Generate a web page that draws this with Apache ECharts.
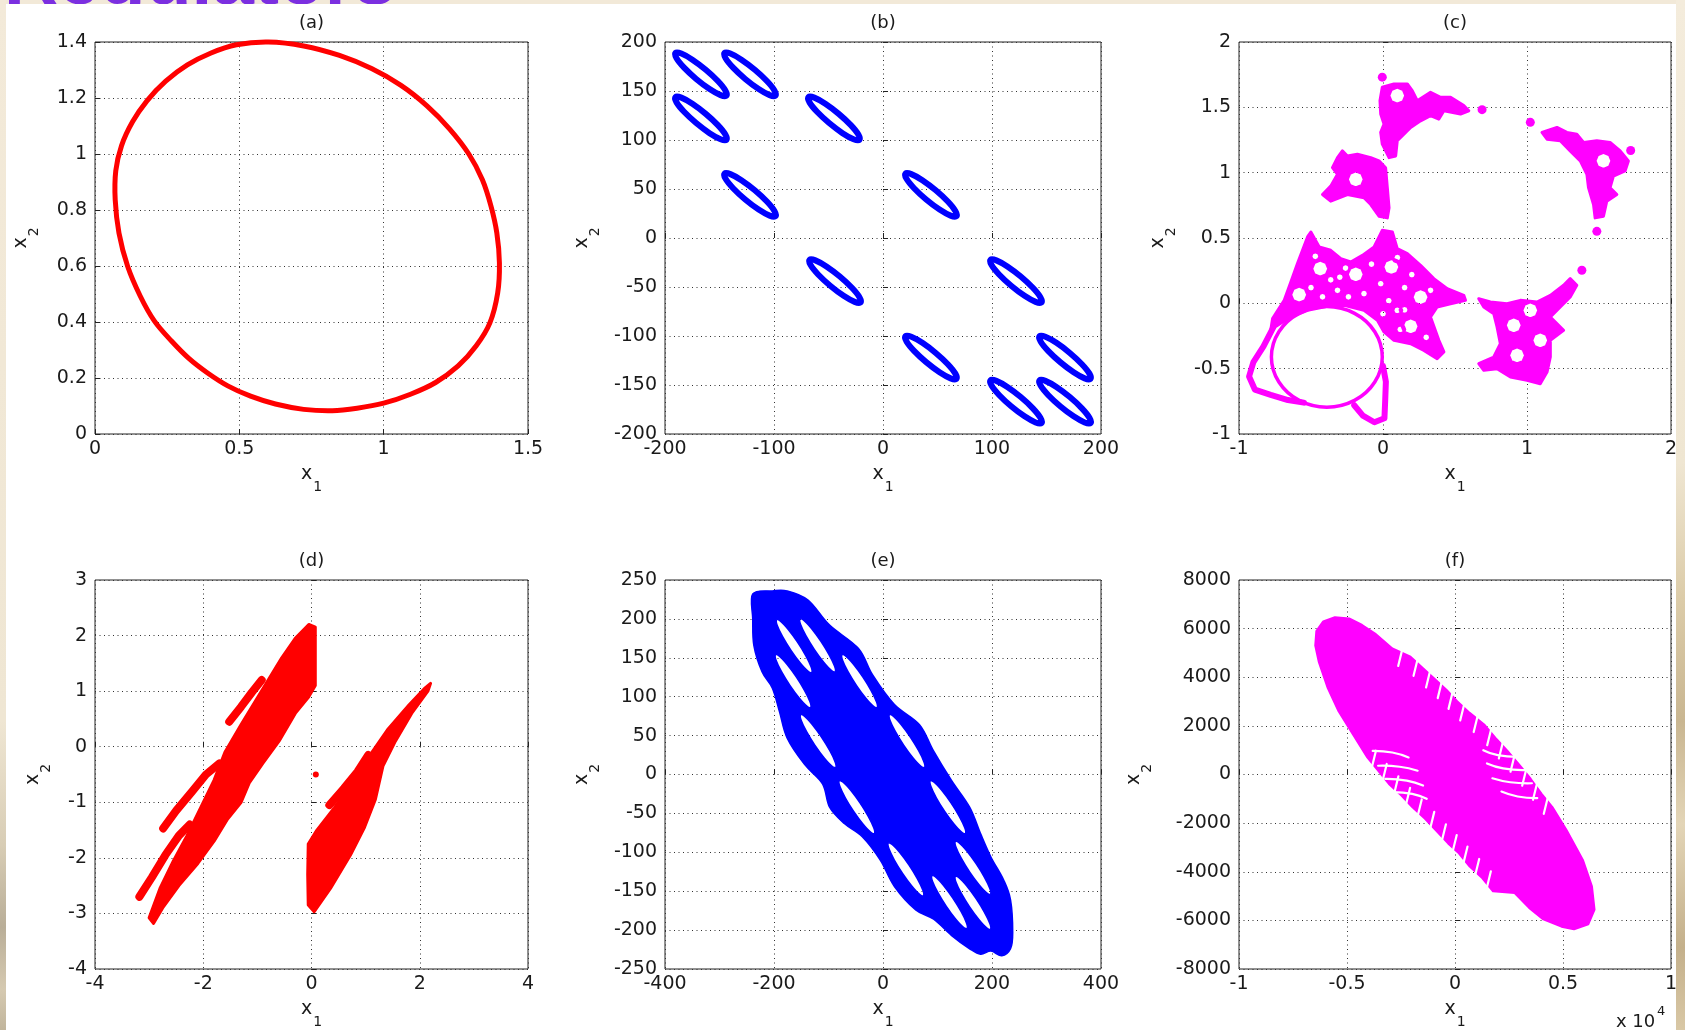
<!DOCTYPE html>
<html>
<head>
<meta charset="utf-8">
<title>Phase portraits (a)-(f)</title>
<script src="https://cdn.jsdelivr.net/npm/echarts@6.0.0/dist/echarts.min.js"></script>
<style>
  html, body { margin:0; padding:0; width:1685px; height:1030px; overflow:hidden; }
  body { background:#f2e9d8; position:relative; }
  #stripL { position:absolute; left:0; top:0; width:6px; height:1030px;
    background:linear-gradient(180deg,#f3ead9 0%,#efe6d3 70%,#d8cdb5 82%,#b9ae98 90%,#d5c9b0 96%,#c1b59c 100%); }
  #stripR { position:absolute; left:1676px; top:0; width:9px; height:1030px;
    background:linear-gradient(180deg,#f4ecdc 0%,#efe6d2 45%,#dccca9 58%,#c9b691 70%,#e3d5b7 80%,#c4b08b 92%,#d9c8a6 100%); }
  #deck { position:absolute; left:4px; top:-58px; font:bold 75px 'Liberation Sans', Arial, sans-serif;
    color:#7b2fe0; line-height:72px; white-space:nowrap; }
  #panel { position:absolute; left:6px; top:4px; width:1670px; height:1026px; background:#fff; }
  #chart { position:absolute; left:0; top:0; width:1685px; height:1030px; }
</style>
</head>
<body>
<div id="stripL"></div>
<div id="stripR"></div>
<div id="deck">Regulators</div>
<div id="panel"></div>
<div id="chart"></div>
<script>
// ---------- axis ticks and panel titles ----------
const panelTitles = ['(a)', '(b)', '(c)', '(d)', '(e)', '(f)'];
const xTicks = [
  [0, 0.5, 1, 1.5],
  [-200, -100, 0, 100, 200],
  [-1, 0, 1, 2],
  [-4, -2, 0, 2, 4],
  [-400, -200, 0, 200, 400],
  [-10000, -5000, 0, 5000, 10000]
];
const yTicks = [
  [0, 0.2, 0.4, 0.6, 0.8, 1, 1.2, 1.4],
  [-200, -150, -100, -50, 0, 50, 100, 150, 200],
  [-1, -0.5, 0, 0.5, 1, 1.5, 2],
  [-4, -3, -2, -1, 0, 1, 2, 3],
  [-250, -200, -150, -100, -50, 0, 50, 100, 150, 200, 250],
  [-8000, -6000, -4000, -2000, 0, 2000, 4000, 6000, 8000]
];

// ---------- (a) limit cycle, points along the closed orbit ----------
const cycleA = [[0.6,1.4],[0.723,1.386],[0.847,1.352],[0.958,1.305],[1.06,1.245],[1.15,1.172],[1.228,1.09],
  [1.295,1.0],[1.342,0.908],[1.372,0.813],[1.392,0.718],[1.401,0.611],[1.395,0.504],[1.368,0.397],[1.32,0.314],
  [1.258,0.243],[1.18,0.184],[1.093,0.142],[1.0,0.11],[0.908,0.092],[0.822,0.083],[0.723,0.088],[0.625,0.107],
  [0.539,0.135],[0.46,0.172],[0.39,0.218],[0.325,0.27],[0.265,0.332],[0.206,0.403],[0.157,0.492],[0.113,0.599],
  [0.083,0.718],[0.07,0.836],[0.072,0.94],[0.092,1.03],[0.13,1.115],[0.18,1.19],[0.245,1.26],[0.32,1.318],
  [0.4,1.36],[0.49,1.39]];

// ---------- (b) twelve small orbits: orbit outline (relative) and orbit centres ----------
const orbitLoopB = [[23.4,-21.8],[22.4,-16.4],[15.5,-6.8],[4.4,4.7],[-7.9,15.0],[-18.0,21.2],
  [-23.4,21.8],[-22.4,16.4],[-15.5,6.8],[-4.4,-4.7],[7.9,-15.0],[18.0,-21.2]];
const orbitCentersB = [[-167,167],[-122,167],[-167,122],[-45,122],[-122,44],[44,44],
  [-44,-44],[122,-44],[44,-122],[167,-122],[122,-167],[167,-167]];

// ---------- (c) lace-like attractor: filled patches, their gaps, the ring and loose strands ----------
const latticeC = [[-0.501,0.546],[-0.443,0.431],[-0.363,0.406],[-0.293,0.342],[-0.224,0.316],[-0.143,0.367],
  [-0.062,0.431],[-0.005,0.559],[0.065,0.546],[0.099,0.418],[0.169,0.38],[0.261,0.291],[0.353,0.189],
  [0.446,0.112],[0.561,0.061],[0.573,0.023],[0.469,-0.003],[0.376,-0.028],[0.33,-0.105],[0.388,-0.283],
  [0.423,-0.372],[0.376,-0.423],[0.284,-0.36],[0.192,-0.309],[0.076,-0.283],[0.007,-0.219],[-0.039,-0.13],
  [-0.132,-0.054],[-0.27,-0.015],[-0.386,-0.023],[-0.524,-0.054],[-0.64,-0.105],[-0.732,-0.168],
  [-0.778,-0.194],[-0.767,-0.117],[-0.686,0.023],[-0.64,0.163],[-0.594,0.304],[-0.559,0.406],[-0.524,0.508]];
const latticeGapsC = [[-0.436,0.265],[-0.189,0.222],[0.058,0.278],[-0.582,0.066],[0.261,0.048],[0.192,-0.176]];
const latticeSlitsC = [[-0.316,0.1],[-0.132,0.074],[-0.363,0.18],[-0.016,0.15],[0.099,-0.054],[-0.24,0.05],
  [0.04,0.02],[0.15,0.12],[-0.5,0.12],[0.3,-0.26],[-0.26,0.27],[0.2,0.22],[0.33,0.1],[0.0,-0.08],
  [0.12,-0.2],[-0.42,0.05],[-0.47,0.36],[0.1,0.35],[-0.08,0.3],[-0.3,0.2],[0.15,-0.05]];
const patchLeftC = [[-0.282,1.167],[-0.247,1.128],[-0.178,1.141],[-0.085,1.115],[-0.028,1.09],[0.018,1.038],
  [0.03,0.885],[0.042,0.731],[0.03,0.654],[-0.028,0.667],[-0.085,0.756],[-0.132,0.808],[-0.247,0.833],
  [-0.363,0.782],[-0.42,0.833],[-0.363,0.897],[-0.316,0.987],[-0.351,1.038],[-0.316,1.115]];
const patchLeftGapsC = [[-0.189,0.949]];
const patchTopC = [[-0.005,1.654],[0.076,1.679],[0.169,1.679],[0.203,1.628],[0.238,1.551],[0.33,1.615],
  [0.4,1.577],[0.469,1.577],[0.561,1.513],[0.596,1.474],[0.538,1.449],[0.423,1.474],[0.388,1.41],[0.33,1.436],
  [0.261,1.397],[0.192,1.346],[0.145,1.295],[0.099,1.244],[0.088,1.128],[0.042,1.115],[-0.005,1.218],
  [-0.016,1.308],[0.007,1.372],[-0.016,1.449],[-0.021,1.551]];
const patchTopGapsC = [[0.099,1.59]];
const patchRightC = [[1.104,1.308],[1.208,1.346],[1.277,1.308],[1.346,1.295],[1.393,1.231],[1.485,1.244],
  [1.577,1.231],[1.647,1.167],[1.704,1.09],[1.681,1.013],[1.6,0.974],[1.577,0.885],[1.624,0.833],[1.554,0.782],
  [1.531,0.667],[1.473,0.654],[1.462,0.756],[1.427,0.885],[1.416,0.987],[1.37,1.09],[1.3,1.167],[1.231,1.244],[1.139,1.256]];
const patchRightGapsC = [[1.531,1.09]];
const patchLowC = [[0.665,0.036],[0.746,0.01],[0.861,-0.003],[0.954,0.023],[1.069,0.01],[1.162,0.061],
  [1.254,0.138],[1.3,0.189],[1.346,0.138],[1.3,0.048],[1.231,-0.028],[1.162,-0.105],[1.254,-0.207],
  [1.162,-0.283],[1.162,-0.411],[1.139,-0.526],[1.092,-0.615],[1.0,-0.589],[0.885,-0.564],[0.792,-0.5],
  [0.7,-0.513],[0.665,-0.462],[0.769,-0.411],[0.815,-0.309],[0.792,-0.181],[0.769,-0.079],[0.7,-0.028]];
const patchLowGapsC = [[0.908,-0.168],[0.931,-0.398],[1.092,-0.283],[1.023,-0.054]];
const ringC = [[-0.005,-0.41],[-0.057,-0.2175],[-0.1975,-0.077],[-0.39,-0.025],[-0.5825,-0.077],
  [-0.723,-0.2175],[-0.775,-0.41],[-0.723,-0.6025],[-0.5825,-0.743],[-0.39,-0.795],[-0.1975,-0.743],[-0.057,-0.6025]];
const strandsC = [
  [[-0.76,-0.18],[-0.83,-0.33],[-0.9,-0.45],[-0.93,-0.56],[-0.89,-0.66],[-0.78,-0.7],[-0.66,-0.74],[-0.55,-0.76]],
  [[-0.2,-0.78],[-0.14,-0.86],[-0.06,-0.91],[0.01,-0.88],[0.015,-0.75],[0.02,-0.6],[0.0,-0.48]]
];
const dotsC = [[-0.005,1.731],[0.688,1.482],[1.023,1.385],[1.72,1.17],[1.485,0.551],[1.381,0.253]];

// ---------- (d) two-band attractor ----------
const bandLeftD = [[-0.05,2.2],[0.07,2.15],[0.07,1.6],[0.07,1.1],[-0.05,0.9],[-0.3,0.6],[-0.6,0.1],
  [-0.9,-0.3],[-1.15,-0.65],[-1.3,-1.0],[-1.55,-1.3],[-1.8,-1.7],[-2.1,-2.1],[-2.45,-2.5],[-2.75,-2.9],
  [-2.92,-3.18],[-3.0,-3.08],[-2.8,-2.55],[-2.55,-2.05],[-2.3,-1.6],[-2.05,-1.1],[-1.8,-0.6],[-1.6,-0.1],
  [-1.3,0.4],[-1.05,0.8],[-0.8,1.2],[-0.55,1.6],[-0.3,1.95]];
const bandRightD = [[2.2,1.14],[2.15,1.0],[1.85,0.6],[1.55,0.1],[1.32,-0.35],[1.18,-0.95],[0.98,-1.45],
  [0.72,-1.95],[0.35,-2.55],[0.05,-2.97],[-0.06,-2.85],[-0.07,-2.3],[-0.06,-1.75],[0.1,-1.5],[0.42,-1.1],
  [0.75,-0.65],[1.08,-0.15],[1.4,0.3],[1.8,0.75],[2.1,1.06]];
const streaksD = [
  [[-3.18,-2.7],[-2.95,-2.35],[-2.7,-1.95],[-2.45,-1.6],[-2.25,-1.4]],
  [[-2.74,-1.47],[-2.5,-1.15],[-2.2,-0.8],[-1.95,-0.5],[-1.7,-0.3]],
  [[-1.52,0.45],[-1.3,0.72],[-1.1,0.98],[-0.92,1.2]],
  [[0.33,-1.05],[0.6,-0.75],[0.85,-0.45],[1.05,-0.15]]
];
const isolatedD = [[0.08,-0.5]];

// ---------- (e) filled attractor with twelve holes ----------
const outerE = [[-239,232],[-203,236],[-176,236],[-137,224],[-98,192],[-45,162],[-19,128],[21,90],[67,64],
  [93,30],[126,-8],[159,-42],[179,-76],[198,-106],[221,-135],[234,-161],[238,-203],[234,-224],[218,-233],
  [198,-227],[179,-231],[159,-224],[126,-207],[93,-186],[60,-174],[21,-144],[-5,-110],[-38,-80],[-71,-63],
  [-98,-42],[-111,-12],[-144,13],[-176,47],[-190,81],[-203,111],[-222,132],[-237,166],[-239,200]];
const holeLoopE = [[32.4,-33.8],[31.0,-26.5],[21.2,-12.1],[5.8,5.5],[-11.2,21.7],[-25.2,32.1],
  [-32.4,33.8],[-31.0,26.5],[-21.2,12.1],[-5.8,-5.5],[11.2,-21.7],[25.2,-32.1]];
const holeCentersE = [[-163,165],[-120,166],[-165,120],[-43,120],[-119,43],[44,43],
  [-48,-42],[119,-42],[42,-122],[165,-120],[122,-164],[165,-165]];

// ---------- (f) fan-shaped attractor (x1 in raw units, axis shows x 10^4) ----------
const fanF = [[-6470,5300],[-6420,5900],[-6100,6300],[-5560,6470],[-4900,6420],[-4300,6150],[-3700,5800],
  [-2900,5186],[-2060,4846],[-1480,4370],[-900,3895],[-400,3487],[100,3011],[680,2535],[1350,2059],
  [1930,1448],[2430,972],[3010,360],[3510,-184],[4010,-795],[4510,-1339],
  [5170,-2291],[5920,-3514],[6340,-4601],[6460,-5553],[6170,-6165],[5510,-6369],[4930,-6260],
  [4090,-5961],[3430,-5485],[2760,-4873],
  [1760,-4806],[1260,-4262],[680,-3786],[180,-3242],[-320,-2835],[-820,-2359],[-1400,-1815],
  [-1980,-1339],[-2480,-863],[-3060,-388],[-3560,156],[-4060,700],
  [-4730,1652],[-5390,2603],[-5890,3555],[-6310,4642]];
// narrow gaps between the teeth on both flanks, and the curved gaps inside
const fanGapsF = [
  [[-2450,5116],[-2630,4466]], [[-1740,4708],[-1920,4058]], [[-1160,4233],[-1340,3583]],
  [[-620,3791],[-800,3141]], [[-120,3349],[-300,2699]], [[420,2873],[240,2223]],
  [[1045,2397],[865,1747]], [[1670,1854],[1490,1204]], [[2210,1310],[2030,660]],
  [[2750,766],[2570,116]], [[3290,188],[3110,-462]], [[3790,-390],[3610,-1040]], [[4290,-967],[4110,-1617]],
  [[1480,-4634],[1660,-3984]], [[940,-4124],[1120,-3474]], [[400,-3614],[580,-2964]],
  [[-100,-3139],[80,-2489]], [[-600,-2697],[-420,-2047]], [[-1140,-2187],[-960,-1537]],
  [[-1720,-1677],[-1540,-1027]], [[-2260,-1201],[-2080,-551]], [[-2800,-726],[-2620,-76]],
  [[-3340,-216],[-3160,434]], [[-3840,328],[-3660,978]],
  [[-3810,972],[-2900,904],[-2150,700]], [[-3560,360],[-2560,319],[-1730,156]],
  [[-3230,-184],[-2230,-252],[-1480,-456]], [[-2980,-727],[-1980,-795],[-1310,-999]],
  [[3810,-972],[2900,-904],[2150,-700]], [[3560,-360],[2560,-319],[1730,-156]],
  [[3230,184],[2230,252],[1480,456]], [[2980,727],[1980,795],[1310,999]]
];

// ---------- layout and styling ----------
const FONT = 'DejaVu Sans';
const INK = '#1a1a1a';
const RED = '#ff0000', BLUE = '#0000ff', MAGENTA = '#ff00ff';

const frames = [
  { left: 95,   top: 42,  width: 433, height: 392, yGap: 63 },
  { left: 665,  top: 42,  width: 436, height: 392, yGap: 72 },
  { left: 1239, top: 42,  width: 432, height: 392, yGap: 70 },
  { left: 95,   top: 580, width: 433, height: 392, yGap: 51 },
  { left: 665,  top: 580, width: 436, height: 392, yGap: 72 },
  { left: 1239, top: 580, width: 432, height: 392, yGap: 94 }
];

const nameRich = {
  v: { fontFamily: FONT, fontSize: 19, color: INK, lineHeight: 20, verticalAlign: 'top' },
  s: { fontFamily: FONT, fontSize: 14, color: INK, lineHeight: 14, verticalAlign: 'top', padding: [15, 0, 0, 1] }
};
const plainNumber = v => String(+(+v).toFixed(6));

function valueAxis(ticks, i, extra) {
  return Object.assign({
    gridIndex: i,
    type: 'value',
    min: ticks[0],
    max: ticks[ticks.length - 1],
    interval: +(ticks[1] - ticks[0]).toFixed(6),
    axisLine: { show: false },
    axisTick: { show: true, inside: true, length: 5, lineStyle: { color: '#222' } },
    splitLine: { show: true, lineStyle: { color: '#333', width: 1, type: [1, 3.5] } },
    nameLocation: 'middle',
    nameTextStyle: { rich: nameRich }
  }, extra);
}

const xAxes = frames.map((f, i) => valueAxis(xTicks[i], i, {
  name: '{v|x}{s|1}',
  nameGap: 31,
  axisLabel: {
    fontFamily: FONT, fontSize: 19, color: INK, margin: 6,
    formatter: i === 5 ? (v => plainNumber(v / 10000)) : plainNumber
  }
}));
const yAxes = frames.map((f, i) => valueAxis(yTicks[i], i, {
  name: '{v|x}{s|2}',
  nameGap: f.yGap,
  nameRotate: 90,
  axisLabel: { fontFamily: FONT, fontSize: 19, color: INK, margin: 8, formatter: plainNumber }
}));

// ---------- drawing helpers: every vertex goes through the axis scales ----------
const toPx = (api, list, dx, dy) => list.map(p => api.coord([p[0] + (dx || 0), p[1] + (dy || 0)]));
const head = s => [s[0][0], s[0][1]];
const fmt = p => p[0].toFixed(2) + ' ' + p[1].toFixed(2);

function signedArea(points) {
  let area = 0;
  for (let k = 0; k < points.length; k++) {
    const a = points[k], b = points[(k + 1) % points.length];
    area += a[0] * b[1] - b[0] * a[1];
  }
  return area;
}
function orient(points, positive) {
  return ((signedArea(points) > 0) === positive) ? points : points.slice().reverse();
}
// closed Catmull-Rom curve through screen points
function curvePath(points) {
  const n = points.length;
  let d = 'M' + fmt(points[0]);
  for (let k = 0; k < n; k++) {
    const p0 = points[(k - 1 + n) % n], p1 = points[k], p2 = points[(k + 1) % n], p3 = points[(k + 2) % n];
    const c1 = [p1[0] + (p2[0] - p0[0]) / 6, p1[1] + (p2[1] - p0[1]) / 6];
    const c2 = [p2[0] - (p3[0] - p1[0]) / 6, p2[1] - (p3[1] - p1[1]) / 6];
    d += 'C' + fmt(c1) + ' ' + fmt(c2) + ' ' + fmt(p2);
  }
  return d + 'Z';
}
function straightPath(points) {
  return 'M' + points.map(fmt).join('L') + 'Z';
}
// small round gap around a screen point
function gapRing(c, r) {
  const dirs = [[1,0],[0.707,0.707],[0,1],[-0.707,0.707],[-1,0],[-0.707,-0.707],[0,-1],[0.707,-0.707]];
  return dirs.map(q => [c[0] + q[0] * r, c[1] + q[1] * r]);
}

function strokeCurveSeries(i, data, pointsOf, color, width) {
  return {
    type: 'custom', xAxisIndex: i, yAxisIndex: i, clip: false, silent: true,
    data: data,
    renderItem: (p, api) => ({
      type: 'path',
      shape: { pathData: curvePath(pointsOf(api)) },
      style: { fill: 'none', stroke: color, lineWidth: width }
    })
  };
}
function polylineSeries(i, lines, color, width, smooth) {
  return {
    type: 'custom', xAxisIndex: i, yAxisIndex: i, clip: false, silent: true,
    data: lines.map((s, k) => [s[0][0], s[0][1], k]),
    renderItem: (p, api) => ({
      type: 'polyline',
      shape: { points: toPx(api, lines[api.value(2)]), smooth: smooth || 0 },
      style: { fill: 'none', stroke: color, lineWidth: width, lineCap: 'round', lineJoin: 'round' }
    })
  };
}
function filledSeries(i, shapes, color, edge) {
  return {
    type: 'custom', xAxisIndex: i, yAxisIndex: i, clip: false, silent: true,
    data: shapes.map((s, k) => [s[0][0], s[0][1], k]),
    renderItem: (p, api) => ({
      type: 'polygon',
      shape: { points: toPx(api, shapes[api.value(2)]) },
      style: { fill: color, stroke: color, lineWidth: edge, lineJoin: 'round' }
    })
  };
}
function dotSeries(i, list, color, r) {
  return {
    type: 'custom', xAxisIndex: i, yAxisIndex: i, clip: false, silent: true,
    data: list,
    renderItem: (p, api) => {
      const c = api.coord([api.value(0), api.value(1)]);
      return { type: 'circle', shape: { cx: c[0], cy: c[1], r: r }, style: { fill: color } };
    }
  };
}
// filled patch with round gaps (gaps wound opposite to the outline)
function patchSeries(i, patches, color) {
  return {
    type: 'custom', xAxisIndex: i, yAxisIndex: i, clip: false, silent: true,
    data: patches.map((pt, k) => [pt.outline[0][0], pt.outline[0][1], k]),
    renderItem: (p, api) => {
      const pt = patches[api.value(2)];
      let d = straightPath(orient(toPx(api, pt.outline), true));
      pt.gaps.forEach(g => { d += straightPath(orient(gapRing(api.coord(g), 8.5), false)); });
      (pt.slits || []).forEach(g => { d += straightPath(orient(gapRing(api.coord(g), 4.5), false)); });
      return { type: 'path', shape: { pathData: d },
        style: { fill: color, stroke: color, lineWidth: 3, lineJoin: 'round' } };
    }
  };
}

const series = [];

// (a)
series.push(strokeCurveSeries(0, [head(cycleA)], api => toPx(api, cycleA), RED, 5));

// (b)
series.push({
  type: 'custom', xAxisIndex: 1, yAxisIndex: 1, clip: false, silent: true,
  data: orbitCentersB,
  renderItem: (p, api) => ({
    type: 'path',
    shape: { pathData: curvePath(toPx(api, orbitLoopB, api.value(0), api.value(1))) },
    style: { fill: 'none', stroke: BLUE, lineWidth: 6 }
  })
});

// (c)
series.push(patchSeries(2, [
  { outline: latticeC, gaps: latticeGapsC, slits: latticeSlitsC },
  { outline: patchLeftC, gaps: patchLeftGapsC },
  { outline: patchTopC, gaps: patchTopGapsC },
  { outline: patchRightC, gaps: patchRightGapsC },
  { outline: patchLowC, gaps: patchLowGapsC }
], MAGENTA));
series.push(strokeCurveSeries(2, [head(ringC)], api => toPx(api, ringC), MAGENTA, 3.5));
series.push(polylineSeries(2, strandsC, MAGENTA, 6));
series.push(dotSeries(2, dotsC, MAGENTA, 4.5));

// (d)
series.push(filledSeries(3, [bandLeftD, bandRightD], RED, 3));
series.push(polylineSeries(3, streaksD, RED, 8));
series.push(dotSeries(3, isolatedD, RED, 3));

// (e)
series.push({
  type: 'custom', xAxisIndex: 4, yAxisIndex: 4, clip: false, silent: true,
  data: [head(outerE)],
  renderItem: (p, api) => {
    let d = curvePath(orient(toPx(api, outerE), true));
    holeCentersE.forEach(c => { d += curvePath(orient(toPx(api, holeLoopE, c[0], c[1]), false)); });
    return { type: 'path', shape: { pathData: d }, style: { fill: BLUE, stroke: BLUE, lineWidth: 1.5 } };
  }
});

// (f)
series.push(filledSeries(5, [fanF], MAGENTA, 2));
series.push(polylineSeries(5, fanGapsF, '#ffffff', 2.2, 0.5));

// ---------- titles and the exponent note ----------
const graphics = frames.map((f, i) => ({
  type: 'text',
  x: f.left + f.width / 2,
  y: f.top - 19,
  style: {
    text: panelTitles[i], font: '18px "DejaVu Sans"', fill: INK,
    align: 'center', verticalAlign: 'middle', textAlign: 'center', textVerticalAlign: 'middle'
  }
}));
graphics.push({
  type: 'text', x: 1616, y: 1022,
  style: { text: 'x 10', font: '18px "DejaVu Sans"', fill: INK,
    align: 'left', verticalAlign: 'middle', textAlign: 'left', textVerticalAlign: 'middle' }
});
graphics.push({
  type: 'text', x: 1657, y: 1012,
  style: { text: '4', font: '13px "DejaVu Sans"', fill: INK,
    align: 'left', verticalAlign: 'middle', textAlign: 'left', textVerticalAlign: 'middle' }
});

const chart = echarts.init(document.getElementById('chart'), null, { renderer: 'canvas' });
chart.setOption({
  animation: false,
  backgroundColor: 'transparent',
  grid: frames.map(f => ({
    left: f.left, top: f.top, width: f.width, height: f.height,
    show: true, borderColor: '#222', borderWidth: 1, backgroundColor: '#fff'
  })),
  xAxis: xAxes,
  yAxis: yAxes,
  graphic: graphics,
  series: series
});
</script>
</body>
</html>
